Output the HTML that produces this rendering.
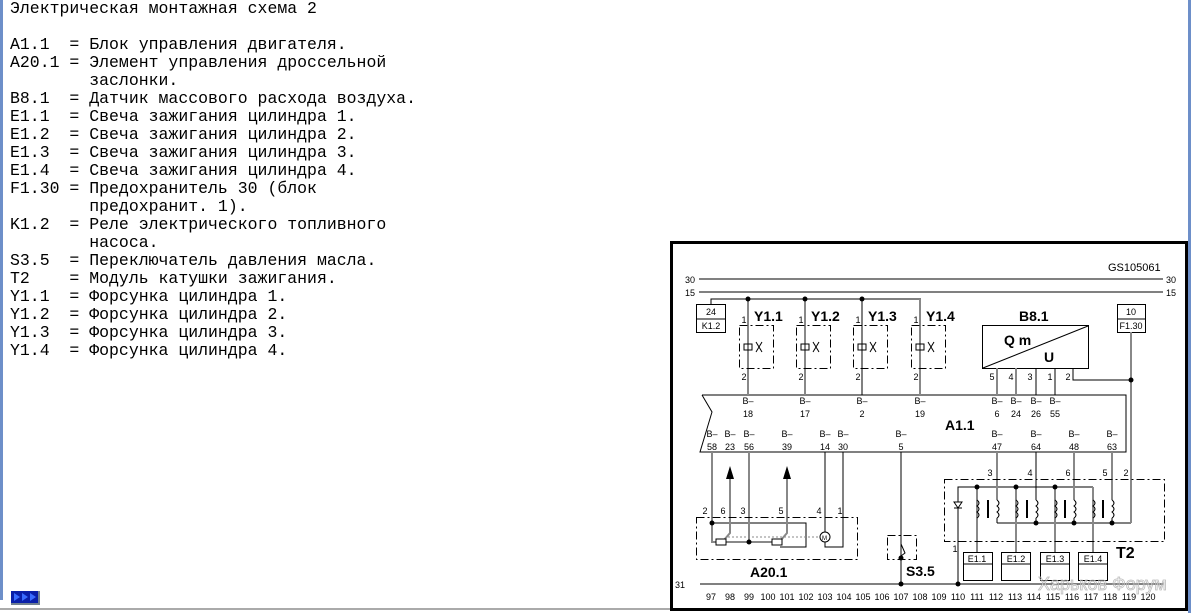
<!DOCTYPE html>
<html><head><meta charset="utf-8"><style>
html,body{margin:0;padding:0;background:#fff;width:1191px;height:613px;overflow:hidden;position:relative}
#lb{position:absolute;left:0;top:0;width:3px;height:600px;background:#6d8fc9}
pre{position:absolute;left:10px;top:0;margin:0;font-family:"Liberation Mono","Noto Sans CJK SC",monospace;font-size:16.5px;line-height:18px;color:#000}
svg{position:absolute;left:0;top:0}
svg text{font-family:"Liberation Sans",sans-serif;fill:#000}
</style></head><body>
<div id="lb"></div>
<pre>Электрическая монтажная схема 2

A1.1  = Блок управления двигателя.
A20.1 = Элемент управления дроссельной
        заслонки.
B8.1  = Датчик массового расхода воздуха.
E1.1  = Свеча зажигания цилиндра 1.
E1.2  = Свеча зажигания цилиндра 2.
E1.3  = Свеча зажигания цилиндра 3.
E1.4  = Свеча зажигания цилиндра 4.
F1.30 = Предохранитель 30 (блок
        предохранит. 1).
K1.2  = Реле электрического топливного
        насоса.
S3.5  = Переключатель давления масла.
T2    = Модуль катушки зажигания.
Y1.1  = Форсунка цилиндра 1.
Y1.2  = Форсунка цилиндра 2.
Y1.3  = Форсунка цилиндра 3.
Y1.4  = Форсунка цилиндра 4.</pre>
<svg width="1191" height="613" viewBox="0 0 1191 613">
<line x1="0" y1="609" x2="1191" y2="609" stroke="#aaa" stroke-width="2"/>
<rect x="1188" y="0" width="3" height="613" fill="#6d8fc9"/>
<!-- button -->
<rect x="11" y="591" width="29" height="14" fill="#708090"/>
<rect x="11" y="591" width="27" height="12" fill="#0a1fa8"/>
<polygon points="14,593 20,597 14,601" fill="#3a6cff"/><polygon points="22,593 28,597 22,601" fill="#3a6cff"/><polygon points="30,593 36,597 30,601" fill="#3a6cff"/>
<!-- frame -->
<rect x="671.5" y="242.5" width="515" height="367" fill="#fff" stroke="#000" stroke-width="3"/>
<text x="1108" y="271" font-size="11">GS105061</text>
<g font-size="9">
<text x="685" y="283">30</text><text x="1166" y="283">30</text>
<text x="685" y="296">15</text><text x="1166" y="296">15</text>
<text x="675" y="588">31</text>
</g>
<g stroke="#000" stroke-width="1" fill="none">
<line x1="699" y1="279" x2="1163" y2="279"/>
<line x1="699" y1="292" x2="1163" y2="292"/>
<line x1="700" y1="584" x2="1163" y2="584"/>
<polyline points="711,304 711,299 921,299"/>
<rect x="696.5" y="304.5" width="29" height="28"/><line x1="696" y1="319" x2="725" y2="319"/>
<rect x="1117.5" y="304.5" width="28" height="28"/><line x1="1117" y1="319" x2="1145" y2="319"/>
<!-- B8.1 -->
<rect x="982.5" y="325.5" width="106" height="43"/><line x1="983" y1="368" x2="1088" y2="326"/>
<polyline points="1073,368 1073,380 1131,380"/>
<line x1="1036" y1="368" x2="1036" y2="395"/><line x1="1055" y1="368" x2="1055" y2="395"/>
<!-- A1.1 -->
<polyline points="702,395 1126,395 1126,452 700,452 712,412 702,395"/>
<!-- T2 lines -->
<polyline points="958,584 958,487 1093,487"/>
<polyline points="997,523 1131,523"/>
<line x1="1036" y1="452" x2="1036" y2="500"/>
<!-- A20.1 internals -->
<polyline points="712,523 806,523 806,547 780,547"/>
<line x1="825" y1="452" x2="825" y2="532"/>
<polyline points="843,452 843,547 825,547 825,542"/>
<line x1="862" y1="299" x2="862" y2="395"/>
<line x1="901" y1="452" x2="901" y2="584"/>
</g>
<g stroke="#888" stroke-width="2" fill="none">
<line x1="748" y1="299" x2="748" y2="395"/><line x1="805" y1="299" x2="805" y2="395"/>
<line x1="920" y1="299" x2="920" y2="395"/>
<line x1="997" y1="368" x2="997" y2="395"/><line x1="1016" y1="368" x2="1016" y2="395"/>
<line x1="1131" y1="332" x2="1131" y2="523"/>
<line x1="997" y1="452" x2="997" y2="500"/><line x1="1074" y1="452" x2="1074" y2="500"/><line x1="1112" y1="452" x2="1112" y2="500"/>
<line x1="977" y1="487" x2="977" y2="552"/><line x1="1016" y1="487" x2="1016" y2="552"/>
<line x1="1055" y1="487" x2="1055" y2="552"/><line x1="1093" y1="487" x2="1093" y2="552"/>
<polyline points="712,452 712,542 718,542"/>
<line x1="749" y1="452" x2="749" y2="542"/>
<polyline points="730,476 730,533 724,540"/>
<polyline points="787,476 787,533 781,540"/>
<line x1="724" y1="542" x2="774" y2="542"/>
</g>
<g fill="#000">
<polygon points="730,466 726,479 734,479"/><polygon points="787,466 783,479 791,479"/>
<circle cx="748" cy="299" r="2.5"/><circle cx="805" cy="299" r="2.5"/><circle cx="862" cy="299" r="2.5"/>
<circle cx="1131" cy="380" r="2.5"/>
<circle cx="712" cy="523" r="2.5"/><circle cx="749" cy="542" r="2.5"/>
<circle cx="901" cy="558" r="2.5"/><circle cx="901" cy="584" r="2.5"/><circle cx="958" cy="584" r="2.5"/>
<circle cx="977" cy="487" r="2.5"/><circle cx="1016" cy="487" r="2.5"/><circle cx="1055" cy="487" r="2.5"/>
<circle cx="1036" cy="523" r="2.5"/><circle cx="1074" cy="523" r="2.5"/><circle cx="1112" cy="523" r="2.5"/>
</g>
<!-- resistors, motor, switch, diode -->
<g stroke="#000" stroke-width="1" fill="#fff">
<rect x="716" y="539" width="10" height="6"/><rect x="772" y="539" width="10" height="6"/>
<circle cx="825" cy="537" r="5"/>
<polygon points="954,502 962,502 958,508"/>
</g>
<line x1="728" y1="537" x2="820" y2="537" stroke="#888" stroke-dasharray="2,2"/>
<text x="822" y="540" font-size="6">M</text>
<line x1="954" y1="508" x2="962" y2="508" stroke="#000"/>
<polyline points="901,536 901,544 905,553 901,556" stroke="#000" fill="none"/>
<!-- dashed boxes -->
<g stroke="#000" stroke-width="1" fill="none" stroke-dasharray="8,3,2,3">
<rect x="739.5" y="325.5" width="34" height="43"/><rect x="796.5" y="325.5" width="34" height="43"/>
<rect x="853.5" y="325.5" width="34" height="43"/><rect x="911.5" y="325.5" width="34" height="43"/>
<rect x="696.5" y="517.5" width="161" height="42"/>
<rect x="887.5" y="535.5" width="29" height="24"/>
<rect x="944.5" y="479.5" width="220" height="62"/>
</g>
<!-- injector symbols -->
<g stroke="#000" stroke-width="1" fill="none">
<rect x="744" y="344" width="8" height="6"/><rect x="801" y="344" width="8" height="6"/>
<rect x="858" y="344" width="8" height="6"/><rect x="916" y="344" width="8" height="6"/>
<path d="M756,342 l6,10 M762,342 l-6,10 M813,342 l6,10 M819,342 l-6,10 M870,342 l6,10 M876,342 l-6,10 M928,342 l6,10 M934,342 l-6,10"/>
</g>
<!-- coils -->
<g stroke="#000" stroke-width="1" fill="none">
<path d="M977,500 q4,3 0,6 q4,3 0,6 q4,3 0,6 M997,500 q4,3 0,6 q4,3 0,6 q4,3 0,6 M1016,500 q4,3 0,6 q4,3 0,6 q4,3 0,6 M1036,500 q4,3 0,6 q4,3 0,6 q4,3 0,6 M1055,500 q4,3 0,6 q4,3 0,6 q4,3 0,6 M1074,500 q4,3 0,6 q4,3 0,6 q4,3 0,6 M1093,500 q4,3 0,6 q4,3 0,6 q4,3 0,6 M1112,500 q4,3 0,6 q4,3 0,6 q4,3 0,6"/>
<line x1="997" y1="518" x2="997" y2="523"/><line x1="1036" y1="518" x2="1036" y2="523"/><line x1="1074" y1="518" x2="1074" y2="523"/><line x1="1112" y1="518" x2="1112" y2="523"/>
<line x1="988" y1="500" x2="988" y2="518" stroke-width="2"/><line x1="1027" y1="500" x2="1027" y2="518" stroke-width="2"/>
<line x1="1065" y1="500" x2="1065" y2="518" stroke-width="2"/><line x1="1103" y1="500" x2="1103" y2="518" stroke-width="2"/>
<rect x="963.5" y="552.5" width="29" height="28"/><line x1="963" y1="564" x2="992" y2="564"/>
<rect x="1001.5" y="552.5" width="29" height="28"/><line x1="1001" y1="564" x2="1030" y2="564"/>
<rect x="1040.5" y="552.5" width="29" height="28"/><line x1="1040" y1="564" x2="1069" y2="564"/>
<rect x="1078.5" y="552.5" width="29" height="28"/><line x1="1078" y1="564" x2="1107" y2="564"/>
</g>
<!-- labels -->
<g font-size="9" text-anchor="middle">
<text x="711" y="315">24</text><text x="711" y="329">K1.2</text>
<text x="1131" y="315">10</text><text x="1131" y="329">F1.30</text>
<text x="977" y="562">E1.1</text><text x="1016" y="562">E1.2</text><text x="1055" y="562">E1.3</text><text x="1093" y="562">E1.4</text>
<text x="744" y="323">1</text><text x="801" y="323">1</text><text x="858" y="323">1</text><text x="916" y="323">1</text>
<text x="744" y="380">2</text><text x="801" y="380">2</text><text x="858" y="380">2</text><text x="916" y="380">2</text>
<text x="992" y="380">5</text><text x="1011" y="380">4</text><text x="1030" y="380">3</text><text x="1050" y="380">1</text><text x="1068" y="380">2</text>
</g>
<g font-size="9" text-anchor="middle">
<text x="748" y="404">B–</text><text x="748" y="417">18</text>
<text x="805" y="404">B–</text><text x="805" y="417">17</text>
<text x="862" y="404">B–</text><text x="862" y="417">2</text>
<text x="920" y="404">B–</text><text x="920" y="417">19</text>
<text x="997" y="404">B–</text><text x="997" y="417">6</text>
<text x="1016" y="404">B–</text><text x="1016" y="417">24</text>
<text x="1036" y="404">B–</text><text x="1036" y="417">26</text>
<text x="1055" y="404">B–</text><text x="1055" y="417">55</text>
<text x="712" y="437">B–</text><text x="712" y="450">58</text>
<text x="730" y="437">B–</text><text x="730" y="450">23</text>
<text x="749" y="437">B–</text><text x="749" y="450">56</text>
<text x="787" y="437">B–</text><text x="787" y="450">39</text>
<text x="825" y="437">B–</text><text x="825" y="450">14</text>
<text x="843" y="437">B–</text><text x="843" y="450">30</text>
<text x="901" y="437">B–</text><text x="901" y="450">5</text>
<text x="997" y="437">B–</text><text x="997" y="450">47</text>
<text x="1036" y="437">B–</text><text x="1036" y="450">64</text>
<text x="1074" y="437">B–</text><text x="1074" y="450">48</text>
<text x="1112" y="437">B–</text><text x="1112" y="450">63</text>
<text x="705" y="514">2</text><text x="723" y="514">6</text><text x="743" y="514">3</text><text x="781" y="514">5</text><text x="819" y="514">4</text><text x="840" y="514">1</text>
<text x="990" y="476">3</text><text x="1030" y="476">4</text><text x="1068" y="476">6</text><text x="1105" y="476">5</text><text x="1126" y="476">2</text>
<text x="955" y="552">1</text>
</g>
<g font-size="9" text-anchor="middle">
<text x="711" y="600">97</text><text x="730" y="600">98</text><text x="749" y="600">99</text><text x="768" y="600">100</text><text x="787" y="600">101</text><text x="806" y="600">102</text><text x="825" y="600">103</text><text x="844" y="600">104</text><text x="863" y="600">105</text><text x="882" y="600">106</text><text x="901" y="600">107</text><text x="920" y="600">108</text><text x="939" y="600">109</text><text x="958" y="600">110</text><text x="977" y="600">111</text><text x="996" y="600">112</text><text x="1015" y="600">113</text><text x="1034" y="600">114</text><text x="1053" y="600">115</text><text x="1072" y="600">116</text><text x="1091" y="600">117</text><text x="1110" y="600">118</text><text x="1129" y="600">119</text><text x="1148" y="600">120</text>
</g>
<g font-size="14" font-weight="bold">
<text x="754" y="321">Y1.1</text><text x="811" y="321">Y1.2</text><text x="868" y="321">Y1.3</text><text x="926" y="321">Y1.4</text>
<text x="1019" y="321">B8.1</text>
<text x="1004" y="345">Q m</text><text x="1044" y="362">U</text>
<text x="945" y="430">A1.1</text>
<text x="750" y="577">A20.1</text>
<text x="906" y="576">S3.5</text>
<text x="1116" y="558" font-size="16">T2</text>
</g>
<text x="1038" y="590" font-size="18" font-family="Liberation Serif" fill="none" stroke="#bbb" stroke-width="0.8" style="fill:none">Харьков Форум</text>
</svg>
</body></html>
